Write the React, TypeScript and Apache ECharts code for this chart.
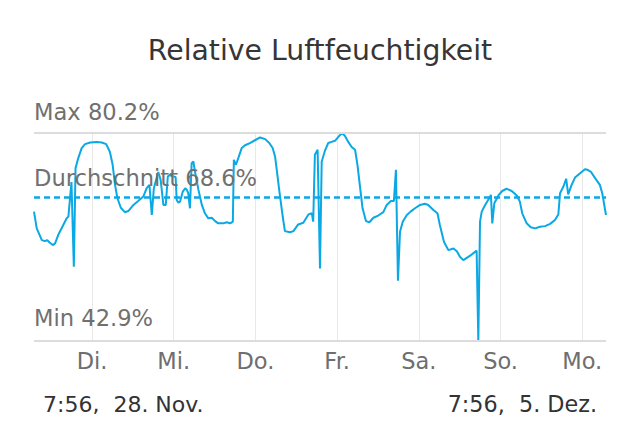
import React, { useEffect, useRef } from "react";
import * as echarts from "echarts";

// Hours since the start of the period (7:56, 28. Nov.)
const hours = [
  0, 0.8, 2.3, 3.2, 3.9, 4.5, 5.5, 6.2, 7.1, 8.6, 9.6, 10.1, 11.0, 11.7, 12.2, 13.0, 14.0, 15.0, 16.5, 18.4,
  19.9, 21.2, 22.3, 23.1, 23.8, 24.5, 25.5, 26.7, 27.7, 29.2, 30.6, 32.1, 33.1, 33.9, 34.6, 35.2, 36.5, 37.2,
  38.0, 38.7, 39.3, 39.9, 40.9, 41.6, 41.9, 42.4, 42.9, 43.7, 44.4, 44.9, 45.3, 45.8, 46.3, 46.8, 47.3, 48.3,
  49.3, 50.2, 51.2, 52.2, 53.2, 54.1, 55.6, 56.6, 57.6, 58.4, 58.7, 59.3, 60.0, 61.0, 62.0, 63.4, 64.9, 66.4,
  67.9, 69.1, 70.1, 70.8, 71.3, 72.1, 73.1, 73.7, 75.2, 76.2, 77.6, 79.1, 80.6, 81.6, 82.0, 82.5, 83.3, 84.0,
  84.5, 85.5, 86.4, 87.4, 88.4, 89.4, 90.4, 91.3, 92.3, 93.3, 94.3, 95.0, 95.8, 96.5, 97.5, 98.5, 99.7, 101.1,
  102.6, 103.6, 104.8, 105.7, 106.3, 106.9, 107.5, 108.3, 109.5, 110.6, 111.9, 113.4, 114.8, 115.8, 117.3,
  118.5, 119.2, 120.4, 121.7, 123.2, 124.2, 125.1, 126.1, 127.1, 128.1, 130.0, 130.5, 131.0, 131.5, 132.5,
  133.6, 134.2, 134.6, 135.2, 136.4, 137.5, 138.8, 140.3, 141.8, 142.7, 143.4, 144.7, 145.9, 147.2, 148.6,
  150.1, 151.6, 153.0, 154.0, 154.5, 155.5, 156.3, 156.9, 157.9, 158.9, 160.4, 161.8, 162.6, 163.6, 164.8,
  166.2, 166.9, 168.0,
];

// Relative humidity in %
const humidity = [
  66.1, 63.1, 61.0, 60.8, 61.0, 60.6, 60.1, 60.4, 61.9, 63.7, 64.9, 65.2, 71.4, 56.2, 73.9, 75.7, 77.5, 78.2, 78.5, 78.6,
  78.5, 78.2, 76.8, 74.5, 70.9, 68.5, 66.8, 66.0, 66.2, 67.3, 68.0, 68.8, 70.3, 70.9, 65.5, 70.3, 73.2, 71.8,
  67.3, 67.3, 72.4, 72.7, 72.4, 72.3, 68.2, 67.7, 67.9, 69.7, 70.3, 70.0, 69.4, 66.7, 74.8, 75.1, 73.2, 70.0,
  67.3, 65.8, 64.9, 65.0, 64.4, 64.0, 64.0, 64.2, 64.0, 64.3, 75.4, 74.5, 75.7, 77.5, 78.0, 78.4, 78.9, 79.4,
  79.1, 78.4, 77.5, 76.0, 73.6, 69.6, 65.0, 62.6, 62.4, 62.6, 63.8, 64.1, 65.6, 65.8, 64.3, 76.3, 77.2, 55.9,
  75.1, 77.1, 78.4, 78.6, 78.8, 79.5, 80.2, 79.7, 78.6, 77.7, 77.2, 74.5, 70.3, 66.7, 64.4, 64.2, 65.0, 65.4,
  66.0, 67.3, 68.0, 68.0, 73.6, 53.7, 62.5, 64.3, 65.5, 66.1, 66.7, 67.3, 67.5, 67.3, 66.4,
  65.8, 63.7, 60.7, 59.2, 59.5, 59.0, 58.0, 57.4, 57.8, 58.2, 59.1, 42.9, 64.3, 66.1, 67.3,
  68.4, 69.1, 64.0, 67.6, 69.0, 69.8, 70.2, 69.8, 69.0, 67.9, 65.8, 64.0, 63.3, 63.1, 63.4,
  63.5, 63.9, 64.6, 65.6, 69.4, 70.6, 72.0, 69.2, 70.9, 72.2, 73.0, 73.7, 73.6, 73.2, 72.1,
  70.9, 69.4, 65.5,
];

const MAX_VALUE = 80.2;
const MIN_VALUE = 42.9;
const AVG_VALUE = 68.6;

// Start of the period, in days after the first day's midnight (as placed in the picture)
const START_DAY = 0.29;
const PERIOD_DAYS = 7;
const DAY_LABELS = ["Di.", "Mi.", "Do.", "Fr.", "Sa.", "So.", "Mo."];
const START_LABEL = "7:56,  28. Nov.";
const END_LABEL = "7:56,  5. Dez.";
const TITLE = "Relative Luftfeuchtigkeit";

const FONT = "'DejaVu Sans', sans-serif";
const BLUE = "#0aa8e4";

export default function App() {
  const ref = useRef<HTMLDivElement>(null);

  useEffect(() => {
    document.body.style.margin = "0";
    if (!ref.current) return;
    const chart = echarts.init(ref.current, null, { renderer: "svg" });
    const data = hours.map((h, i) => [START_DAY + h / 24, humidity[i]]);

    chart.setOption({
      animation: false,
      textStyle: { fontFamily: FONT },
      title: {
        text: TITLE,
        left: "center",
        top: 31,
        textStyle: { fontSize: 28.3, fontWeight: "normal", color: "#363636", fontFamily: FONT },
      },
      grid: { left: 34, right: 34, top: 133, bottom: 96, containLabel: false },
      xAxis: {
        type: "value",
        min: START_DAY,
        max: START_DAY + PERIOD_DAYS,
        minInterval: 1,
        maxInterval: 1,
        axisLine: { show: false },
        axisTick: { show: false },
        splitLine: {
          show: true,
          showMinLine: false,
          showMaxLine: false,
          lineStyle: { color: "#e8e8e8", width: 1 },
        },
        axisLabel: {
          margin: 8,
          fontSize: 22.5,
          color: "#6e6e6e",
          fontFamily: FONT,
          showMinLabel: false,
          showMaxLabel: false,
          formatter: (v: number) => {
            const i = Math.round(v);
            if (Math.abs(v - i) > 1e-6) return "";
            return DAY_LABELS[i - 1] ?? "";
          },
        },
      },
      yAxis: {
        type: "value",
        min: MIN_VALUE,
        max: MAX_VALUE,
        show: false,
        splitLine: { show: false },
      },
      graphic: [
        {
          type: "text",
          x: 43,
          y: 404,
          style: {
            text: START_LABEL,
            fontSize: 22,
            fontFamily: FONT,
            fill: "#333333",
            align: "left",
            verticalAlign: "middle",
          },
        },
        {
          type: "text",
          x: 597,
          y: 404,
          style: {
            text: END_LABEL,
            fontSize: 22.3,
            fontFamily: FONT,
            fill: "#333333",
            align: "right",
            verticalAlign: "middle",
          },
        },
      ],
      series: [
        {
          type: "line",
          data,
          showSymbol: false,
          symbol: "none",
          lineStyle: { color: BLUE, width: 2 },
          z: 3,
          markLine: {
            silent: true,
            symbol: "none",
            animation: false,
            data: [
              {
                yAxis: MAX_VALUE,
                lineStyle: { color: "#dcdcdc", width: 2, type: "solid" },
                label: {
                  show: true,
                  position: "insideStartTop",
                  distance: [0, 10],
                  formatter: `Max ${MAX_VALUE.toFixed(1)}%`,
                  fontSize: 22.6,
                  color: "#707070",
                  fontFamily: FONT,
                },
              },
              {
                yAxis: AVG_VALUE,
                lineStyle: { color: BLUE, width: 2.5, type: [6, 4] },
                label: {
                  show: true,
                  position: "insideStartTop",
                  distance: [0, 8],
                  formatter: `Durchschnitt ${AVG_VALUE.toFixed(1)}%`,
                  fontSize: 22.6,
                  color: "#707070",
                  fontFamily: FONT,
                },
              },
              {
                yAxis: MIN_VALUE,
                lineStyle: { color: "#dcdcdc", width: 2, type: "solid" },
                label: {
                  show: true,
                  position: "insideStartTop",
                  distance: [0, 12],
                  formatter: `Min ${MIN_VALUE.toFixed(1)}%`,
                  fontSize: 22.6,
                  color: "#707070",
                  fontFamily: FONT,
                },
              },
            ],
          },
        },
      ],
    });

    return () => chart.dispose();
  }, []);

  return <div ref={ref} style={{ width: 640, height: 437 }} />;
}
